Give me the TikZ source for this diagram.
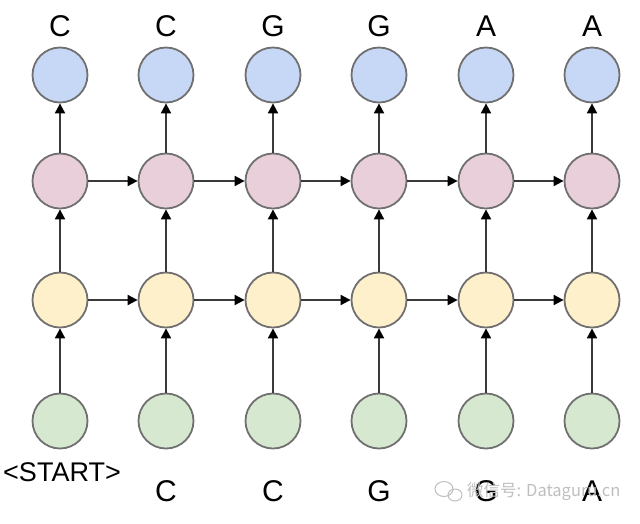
\documentclass[tikz,border=0pt]{standalone}
\usepackage{fontspec}
\setmainfont{Liberation Sans}
\newfontfamily\cjk{Noto Sans CJK SC}
\usetikzlibrary{arrows.meta}
\definecolor{cblue}{HTML}{C6D8F5}
\definecolor{cpink}{HTML}{E8CFDA}
\definecolor{cyell}{HTML}{FDF0CA}
\definecolor{cgreen}{HTML}{D6E8D0}
\definecolor{cedge}{HTML}{707070}
\definecolor{cline}{HTML}{3A3A3A}
\begin{document}
\begin{tikzpicture}[x=1pt,y=-1pt,
  cell/.style={circle,draw=cedge,line width=1.8pt,minimum size=55pt,inner sep=0pt},
  conn/.style={draw=cline,line width=2pt,-{Triangle[length=10pt,width=10pt,color=black]}},
  lab/.style={font=\fontsize{30}{30}\selectfont,inner sep=0pt},
  wm/.style={text=black!25,font=\cjk\fontsize{16.5}{16.5}\selectfont,inner sep=0pt}]
\useasboundingbox (0,0) rectangle (640,523);
\fill[white] (0,0) rectangle (640,523);
\foreach \i/\x/\t in {1/60/C,2/166/C,3/273/G,4/379/G,5/486/A,6/592/A}{
  \node[cell,fill=cblue] (b\i) at (\x,75) {};
  \node[cell,fill=cpink] (p\i) at (\x,181) {};
  \node[cell,fill=cyell] (y\i) at (\x,300) {};
  \node[cell,fill=cgreen] (g\i) at (\x,421) {};
  \node[lab] (t\i) at (\x,26) {\t};
  \draw[conn] (g\i) -- (y\i);
  \draw[conn] (y\i) -- (p\i);
  \draw[conn] (p\i) -- (b\i);
}
\foreach \i/\j in {1/2,2/3,3/4,4/5,5/6}{
  \draw[conn] (p\i) -- (p\j);
  \draw[conn] (y\i) -- (y\j);
}
\node[inner sep=0pt,font=\fontsize{27}{27}\selectfont] (s1) at (62,472) {<START>};
\node[lab] (s2) at (166,491) {C};
\node[lab] (s3) at (273,491) {C};
\node[lab] (s4) at (379,491) {G};
\node[lab] (s5) at (486,491) {G};
\node[lab] (s6) at (592,491) {A};
\node[wm,anchor=west] (wmtext) at (467,492) {微信号: Dataguru.cn};
\draw[black!25,line width=1pt] (444,489) ellipse (9pt and 7.5pt);
\draw[black!25,line width=1pt] (455,495) ellipse (7pt and 6pt);
\end{tikzpicture}
\end{document}
